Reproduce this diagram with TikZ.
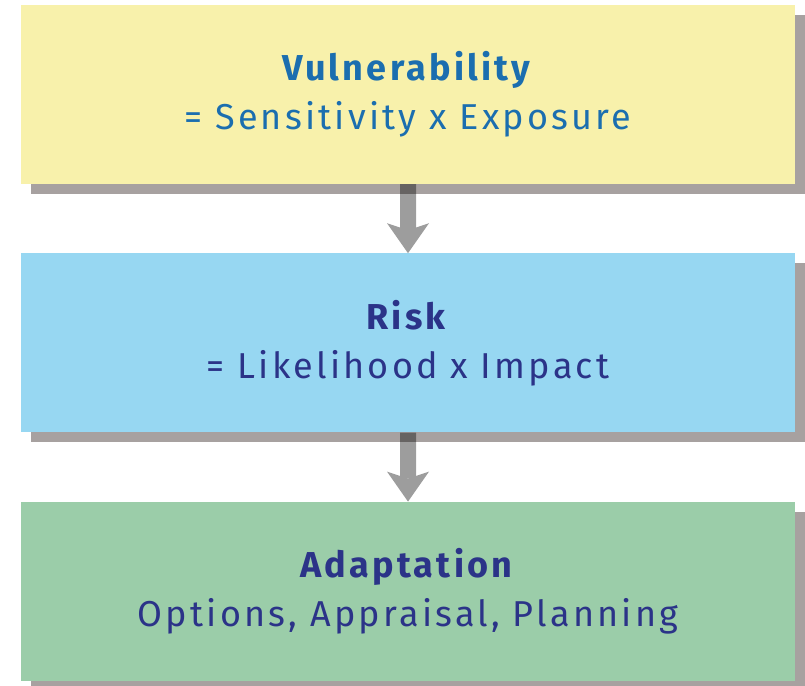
\documentclass[tikz,border=0pt]{standalone}
\usepackage{fontspec}
\setmainfont[LetterSpace=9]{Fira Sans}
\usetikzlibrary{positioning,shadows,arrows.meta}
\definecolor{vulfill}{RGB}{248,241,171}
\definecolor{riskfill}{RGB}{151,215,242}
\definecolor{adapfill}{RGB}{155,205,169}
\definecolor{shadowgrey}{RGB}{167,161,160}
\definecolor{vultext}{RGB}{27,110,175}
\definecolor{navytext}{RGB}{43,51,136}

\begin{document}
\begin{tikzpicture}[x=1pt,y=1pt,
  box/.style={rectangle,minimum width=774pt,minimum height=179pt,inner sep=0pt,
    align=center,font=\fontsize{36}{49}\selectfont,
    drop shadow={shadow xshift=10pt,shadow yshift=-10pt,fill=shadowgrey,opacity=1}},
  flow/.style={draw=black,line width=16pt,
    -{Stealth[length=30pt,width=42pt,inset=7pt,line width=0pt,fill=black]}}]
\useasboundingbox (0,0) rectangle (805,685);
\node [box,fill=vulfill,text=vultext] (vul) at (408,590.5)
  {\textbf{Vulnerability}\\= Sensitivity x Exposure};
\node [box,fill=riskfill,text=navytext,below=69pt of vul] (risk)
  {\textbf{Risk}\\= Likelihood x Impact};
\node [box,fill=adapfill,text=navytext,below=69pt of risk] (adap)
  {\textbf{Adaptation}\\Options, Appraisal, Planning};
% grey arrows, darker where they cross the shadows
\begin{scope}[transparency group,opacity=0.386]
  \draw [flow] (vul) -- (risk);
  \draw [flow] (risk) -- (adap);
\end{scope}
\end{tikzpicture}
\end{document}
